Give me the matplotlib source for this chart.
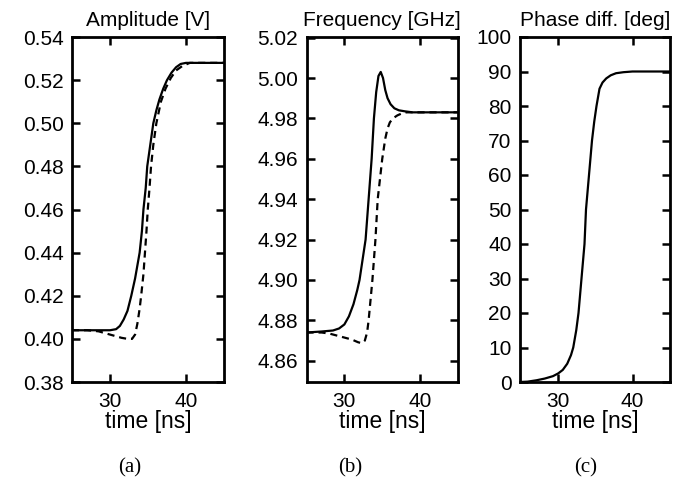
import matplotlib
matplotlib.use("Agg")
import matplotlib.pyplot as plt
import numpy as np

plt.rcParams['font.family'] = ['Liberation Sans', 'DejaVu Sans']

# ---- data ----
# (a) amplitude [V]
amp_t_solid = [25, 27, 29, 30, 30.8, 31.3, 31.8, 32.3, 32.8, 33.3, 33.6, 33.9, 34.2, 34.4, 34.7, 34.9,
               35.3, 35.7, 36.1, 36.5, 37.0, 37.5, 38.1, 38.7, 39.3, 40, 42, 45]
amp_v_solid = [0.404, 0.404, 0.404, 0.404, 0.4045, 0.406, 0.409, 0.413, 0.420, 0.428, 0.434, 0.440, 0.450,
               0.460, 0.470, 0.480, 0.490, 0.500, 0.506, 0.511, 0.516, 0.520, 0.5235, 0.526, 0.5275,
               0.528, 0.528, 0.528]
amp_t_dash = [25, 27, 28.5, 29.5, 30.5, 31.5, 32.3, 32.9, 33.3, 33.6, 33.9, 34.1, 34.4, 34.6, 34.8,
              34.97, 35.2, 35.4, 35.7, 36.1, 36.7, 37.3, 38.0, 38.7, 39.5, 40.5, 42, 45]
amp_v_dash = [0.404, 0.404, 0.4035, 0.4025, 0.4015, 0.4005, 0.400, 0.400, 0.402, 0.407, 0.414, 0.420,
              0.430, 0.440, 0.450, 0.460, 0.470, 0.480, 0.490, 0.500, 0.510, 0.516, 0.521, 0.5245,
              0.5265, 0.528, 0.528, 0.528]

# (b) frequency [GHz]
frq_t_solid = [25, 27, 28.5, 29.3, 30.0, 30.6, 31.2, 31.7, 32.0, 32.4, 32.8, 33.2, 33.6, 33.9, 34.2,
               34.5, 34.8, 35.1, 35.4, 35.7, 36.1, 36.6, 37.2, 38.0, 39.0, 40, 42, 45]
frq_v_solid = [4.874, 4.8745, 4.875, 4.876, 4.878, 4.882, 4.888, 4.895, 4.900, 4.910, 4.920, 4.940,
               4.960, 4.980, 4.993, 5.001, 5.003, 5.000, 4.994, 4.990, 4.987, 4.985, 4.984, 4.9835,
               4.983, 4.983, 4.983, 4.983]
frq_t_dash = [25, 27, 28, 29, 30, 31, 31.8, 32.3, 32.7, 33.0, 33.2, 33.45, 33.7, 33.9, 34.1, 34.4,
              34.7, 35.0, 35.4, 35.7, 36.0, 36.4, 37.0, 37.6, 38.2, 40, 42, 45]
frq_v_dash = [4.874, 4.874, 4.8735, 4.8725, 4.8715, 4.8705, 4.8692, 4.8687, 4.870, 4.874, 4.880,
              4.890, 4.900, 4.910, 4.920, 4.940, 4.950, 4.960, 4.970, 4.975, 4.978, 4.980, 4.9815,
              4.9825, 4.983, 4.983, 4.983, 4.983]

# (c) phase difference [deg]
ph_t = [25, 26, 27.2, 28.3, 29.4, 30.1, 30.7, 31.3, 31.8, 32.1, 32.5, 32.8, 33.2, 33.6, 33.8, 34.0,
        34.2, 34.6, 34.9, 35.2, 35.6, 36.0, 36.5, 37.1, 37.8, 38.8, 40, 42, 45]
ph_v = [0.0, 0.1, 0.5, 1.0, 1.7, 2.5, 3.5, 5.3, 7.8, 10, 15, 20, 30, 40, 50, 55, 60, 70, 75.5, 80,
        85, 86.8, 88.0, 88.9, 89.5, 89.8, 90, 90, 90]

titles = ["Amplitude [V]", "Frequency [GHz]", "Phase diff. [deg]"]
letters = ["(a)", "(b)", "(c)"]
xlabel = "time [ns]"
xticks = [30, 40]
yticks_a = [0.38, 0.40, 0.42, 0.44, 0.46, 0.48, 0.50, 0.52, 0.54]
yticks_b = [4.86, 4.88, 4.90, 4.92, 4.94, 4.96, 4.98, 5.00, 5.02]
yticks_c = [0, 10, 20, 30, 40, 50, 60, 70, 80, 90, 100]

fig = plt.figure(figsize=(6.8, 4.8), dpi=100)
W, H = 680, 480
boxes = [(72, 224), (306.5, 458), (520, 670)]
top, bot = 37, 382
axes = []
for (l, r) in boxes:
    ax = fig.add_axes([l / W, 1 - bot / H, (r - l) / W, (bot - top) / H])
    axes.append(ax)

fs = 15
for i, ax in enumerate(axes):
    ax.set_xlim(25, 45)
    ax.set_xticks(xticks)
    ax.tick_params(direction='in', length=5.5, width=1.8, top=True, right=True,
                   labelsize=fs, pad=6)
    ax.tick_params(axis='x', pad=7.5)
    for sp in ax.spines.values():
        sp.set_linewidth(2.0)
    ax.set_title(titles[i], fontsize=fs, pad=8)
    ax.set_xlabel(xlabel, fontsize=16.5, labelpad=-1)

ax = axes[0]
ax.plot(amp_t_solid, amp_v_solid, color='black', lw=1.6, solid_joinstyle='round')
ax.plot(amp_t_dash, amp_v_dash, color='black', lw=1.6, dashes=(3.2, 2.2))
ax.set_ylim(0.38, 0.54)
ax.set_yticks(yticks_a)
ax.set_yticklabels([f"{v:.2f}" for v in yticks_a])

ax = axes[1]
ax.plot(frq_t_solid, frq_v_solid, color='black', lw=1.6)
ax.plot(frq_t_dash, frq_v_dash, color='black', lw=1.6, dashes=(3.2, 2.2))
ax.set_ylim(4.8495, 5.0203)
ax.set_yticks(yticks_b)
ax.set_yticklabels([f"{v:.2f}" for v in yticks_b])

ax = axes[2]
ax.plot(ph_t, ph_v, color='black', lw=1.6)
ax.set_ylim(0, 100)
ax.set_yticks(yticks_c)

letter_x = [130, 350, 586]
for lx, s in zip(letter_x, letters):
    fig.text(lx / W, 1 - 468 / H, s, ha='center', va='center', fontsize=15,
             family=['Liberation Serif', 'DejaVu Serif'])

fig.savefig("out.png", dpi=100)
